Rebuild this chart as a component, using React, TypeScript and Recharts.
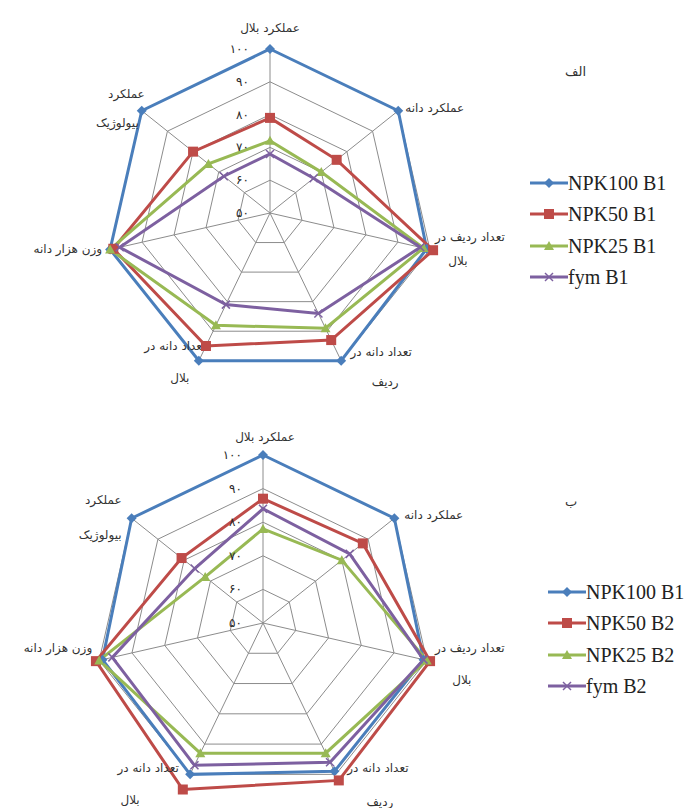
import { RadarChart, Radar, PolarGrid, PolarAngleAxis, PolarRadiusAxis } from 'recharts'

const categories = [
  'عملکرد بلال',
  'عملکرد دانه',
  'تعداد ردیف در بلال',
  'تعداد دانه در ردیف',
  'تعداد دانه در بلال',
  'وزن هزار دانه',
  'عملکرد بیولوژیک',
]
const categoryLines = [
  ['عملکرد بلال'],
  ['عملکرد دانه'],
  ['تعداد ردیف در', 'بلال'],
  ['تعداد دانه در', 'ردیف'],
  ['تعداد دانه در', 'بلال'],
  ['وزن هزار دانه'],
  ['عملکرد', 'بیولوژیک'],
]

const radiusTicks = [50, 60, 70, 80, 90, 100]
const radiusTickLabels = ['۵۰', '۶۰', '۷۰', '۸۰', '۹۰', '۱۰۰']

// panel الف
const topNames = ['NPK100 B1', 'NPK50 B1', 'NPK25 B1', 'fym B1']
const topNpk100 = [100, 100, 99, 100, 100, 100, 100]
const topNpk50 = [79, 76, 101, 93, 95, 99, 80]
const topNpk25 = [72, 70, 98, 89, 88, 100, 74]
const topFym = [68, 67, 97, 84, 81, 97, 68]

// panel ب
const bottomNames = ['NPK100 B1', 'NPK50 B2', 'NPK25 B2', 'fym B2']
const bottomNpk100 = [100, 100, 99, 99, 100, 99, 100]
const bottomNpk50 = [87, 88, 101, 102, 105, 101, 81]
const bottomNpk25 = [78, 80, 100, 93, 93, 100, 72]
const bottomFym = [84, 83, 99, 96, 97, 96, 76]

const colors = ['#4A7EBB', '#BE4B48', '#98B954', '#7D60A0']
const shapes = ['diamond', 'square', 'triangle', 'cross']
const keys = ['s0', 's1', 's2', 's3']

type LineOff = { anchor: 'start' | 'middle' | 'end'; lines: number[][] }

const topLayout: LineOff[] = [
  { anchor: 'middle', lines: [[0, -17]] },
  { anchor: 'start', lines: [[7, 1]] },
  { anchor: 'middle', lines: [[40, -8], [28, 16]] },
  { anchor: 'middle', lines: [[40, -5], [44, 25]] },
  { anchor: 'middle', lines: [[-24, -11], [-19, 21]] },
  { anchor: 'end', lines: [[-8, 4]] },
  { anchor: 'end', lines: [[3, -13], [-3, 16]] },
]
const bottomLayout: LineOff[] = [
  { anchor: 'middle', lines: [[2, -14]] },
  { anchor: 'start', lines: [[10, 1]] },
  { anchor: 'middle', lines: [[43, -8], [35, 24]] },
  { anchor: 'middle', lines: [[42, -2], [44, 32]] },
  { anchor: 'middle', lines: [[-42, -2], [-60, 30]] },
  { anchor: 'end', lines: [[-7, -8]] },
  { anchor: 'end', lines: [[-10, -14], [-10, 21]] },
]

const faFont = '"DejaVu Sans", sans-serif'
const enFont = '"Liberation Serif", "Times New Roman", "DejaVu Serif", serif'

function Marker({ shape, x, y, color }: { shape: string; x: number; y: number; color: string }) {
  if (shape === 'diamond')
    return <polygon points={`${x},${y - 5} ${x + 5},${y} ${x},${y + 5} ${x - 5},${y}`} fill={color} />
  if (shape === 'square') return <rect x={x - 5} y={y - 5} width={10} height={10} fill={color} />
  if (shape === 'triangle')
    return <polygon points={`${x},${y - 5} ${x + 5},${y + 4} ${x - 5},${y + 4}`} fill={color} />
  return (
    <g stroke={color} strokeWidth={1.5}>
      <line x1={x - 4} y1={y - 4} x2={x + 4} y2={y + 4} />
      <line x1={x - 4} y1={y + 4} x2={x + 4} y2={y - 4} />
    </g>
  )
}

function buildRows(series: number[][]) {
  return categories.map((c, i) => {
    const row: any = { subject: c }
    series.forEach((s, k) => (row[keys[k]] = s[i]))
    return row
  })
}

function Panel(props: {
  names: string[]
  series: number[][]
  layout: LineOff[]
  cx: number
  cy: number
  R: number
  legendLeft: number
  legendTop: number
  tag: string
  tagLeft: number
  tagTop: number
}) {
  const { names, series, layout, cx, cy, R } = props
  const rows = buildRows(series)

  const angleTick = (p: any) => {
    const i = categories.indexOf(p.payload.value)
    const a = (2 * Math.PI * i) / 7
    const vx = cx + R * Math.sin(a)
    const vy = cy - R * Math.cos(a)
    const l = layout[i]
    return (
      <g key={`at-${i}`}>
        {categoryLines[i].map((t, j) => (
          <text
            key={j}
            x={vx + l.lines[j][0]}
            y={vy + l.lines[j][1]}
            textAnchor={l.anchor}
            fontSize={12}
            fontFamily={faFont}
            fill="#333"
          >
            {t}
          </text>
        ))}
      </g>
    )
  }

  const radiusTick = (p: any) => {
    const idx = radiusTicks.indexOf(p.payload.value)
    return (
      <text key={`rt-${idx}`} x={p.x - 21} y={p.y + 4} textAnchor="end" fontSize={12} fontFamily={faFont} fill="#2a2a2a">
        {radiusTickLabels[idx]}
      </text>
    )
  }

  return (
    <div style={{ position: 'relative', width: 691, height: 404 }}>
      <RadarChart
        width={540}
        height={404}
        data={rows}
        cx={cx}
        cy={cy}
        outerRadius={R}
        margin={{ top: 0, right: 0, bottom: 0, left: 0 }}
      >
        <PolarGrid stroke="#8c8c8c" strokeWidth={1} />
        <PolarAngleAxis dataKey="subject" tick={angleTick} tickLine={false} axisLine={false} />
        <PolarRadiusAxis
          angle={90}
          domain={[50, 100]}
          allowDataOverflow
          ticks={radiusTicks}
          tick={radiusTick}
          axisLine={false}
          tickLine={false}
        />
        {keys.map((k, idx) => (
          <Radar
            key={k}
            dataKey={k}
            name={names[idx]}
            stroke={colors[idx]}
            strokeWidth={3}
            fill="none"
            fillOpacity={0}
            isAnimationActive={false}
            dot={(d: any) => (
              <g key={`${k}-${d.index}`}>
                <Marker shape={shapes[idx]} x={d.cx} y={d.cy} color={colors[idx]} />
              </g>
            )}
          />
        ))}
      </RadarChart>
      <div
        style={{
          position: 'absolute',
          left: props.tagLeft,
          top: props.tagTop,
          fontFamily: faFont,
          fontSize: 13,
          color: '#333',
        }}
      >
        {props.tag}
      </div>
      <div style={{ position: 'absolute', left: props.legendLeft, top: props.legendTop }}>
        {names.map((n, idx) => (
          <div key={n} style={{ display: 'flex', alignItems: 'center', height: 31.5 }}>
            <svg width={38} height={14}>
              <line x1={0} y1={7} x2={38} y2={7} stroke={colors[idx]} strokeWidth={3} />
              <Marker shape={shapes[idx]} x={19} y={7} color={colors[idx]} />
            </svg>
            <span style={{ fontFamily: enFont, fontSize: 20, color: '#222', lineHeight: '20px' }}>{n}</span>
          </div>
        ))}
      </div>
    </div>
  )
}

export default function App() {
  return (
    <div style={{ position: 'absolute', left: 0, top: 0, width: 691, height: 808, background: '#fff' }}>
      <Panel
        names={topNames}
        series={[topNpk100, topNpk50, topNpk25, topFym]}
        layout={topLayout}
        cx={270}
        cy={213}
        R={164}
        legendLeft={530}
        legendTop={167}
        tag="الف"
        tagLeft={565}
        tagTop={64}
      />
      <Panel
        names={bottomNames}
        series={[bottomNpk100, bottomNpk50, bottomNpk25, bottomFym]}
        layout={bottomLayout}
        cx={263}
        cy={219}
        R={168}
        legendLeft={548}
        legendTop={172}
        tag="ب"
        tagLeft={565}
        tagTop={90}
      />
    </div>
  )
}
